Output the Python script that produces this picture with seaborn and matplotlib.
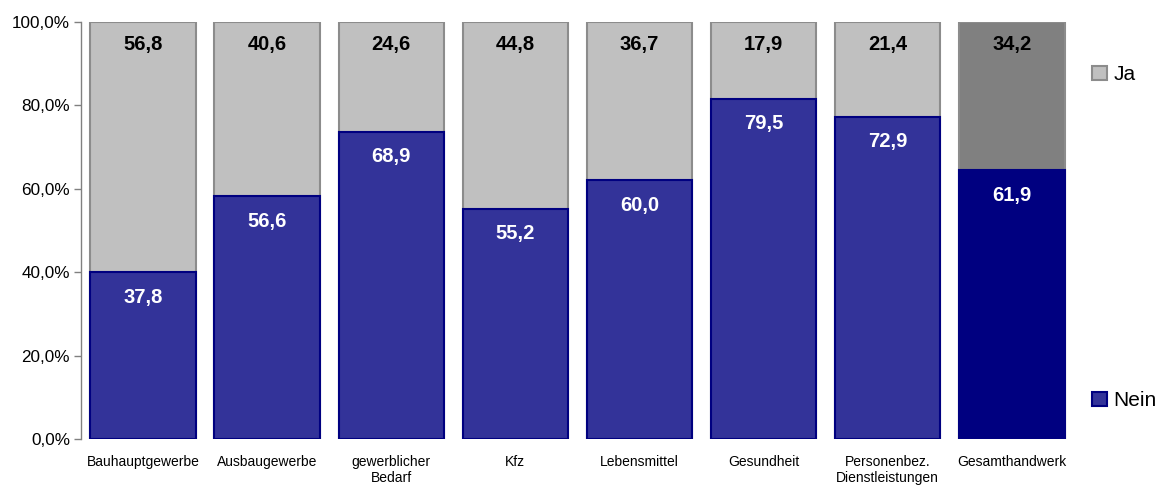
import matplotlib
matplotlib.use("Agg")
import matplotlib.pyplot as plt
from matplotlib.patches import Patch
from matplotlib.ticker import FuncFormatter
import seaborn as sns
import numpy as np
import pandas as pd

categories = ["Bauhauptgewerbe", "Ausbaugewerbe", "gewerblicher\nBedarf", "Kfz",
              "Lebensmittel", "Gesundheit", "Personenbez.\nDienstleistungen", "Gesamthandwerk"]
nein = [37.8, 56.6, 68.9, 55.2, 60.0, 79.5, 72.9, 61.9]
ja = [56.8, 40.6, 24.6, 44.8, 36.7, 17.9, 21.4, 34.2]

nein_arr = np.array(nein)
ja_arr = np.array(ja)
nein_share = nein_arr / (nein_arr + ja_arr) * 100
total_share = np.full(len(categories), 100.0)

df = pd.DataFrame({"cat": categories, "nein": nein_share, "total": total_share})

sns.set_style("white")
plt.rcParams["font.family"] = ["Liberation Sans", "DejaVu Sans"]
plt.rcParams["text.color"] = "black"

fig = plt.figure(figsize=(11.64, 4.86), dpi=100)
ax = fig.add_axes([0.0696, 0.0967, 0.853, 0.858])

ja_colors = ["#C0C0C0"] * 7 + ["#808080"]
nein_colors = ["#333399"] * 7 + ["#000080"]

sns.barplot(data=df, x="cat", y="total", hue="cat", palette=ja_colors,
            legend=False, width=0.85, ax=ax, saturation=1)
n = len(categories)
for p in ax.patches[:n]:
    p.set_edgecolor("#8C8C8C")
    p.set_linewidth(1.5)

sns.barplot(data=df, x="cat", y="nein", hue="cat", palette=nein_colors,
            legend=False, width=0.85, ax=ax, saturation=1)
for p in ax.patches[n:]:
    p.set_edgecolor("#000080")
    p.set_linewidth(1.5)

for i in range(n):
    ax.annotate(f"{ja[i]:.1f}".replace(".", ","), (i, 100), xytext=(0, -16.5),
                textcoords="offset points", ha="center", va="center",
                fontsize=14.5, fontweight="bold", color="black")
    ax.annotate(f"{nein[i]:.1f}".replace(".", ","), (i, nein_share[i]), xytext=(0, -18),
                textcoords="offset points", ha="center", va="center",
                fontsize=14.5, fontweight="bold", color="white")

ax.set_xlim(-0.5, n - 0.5)
ax.set_ylim(0, 100)
ax.set_yticks(np.arange(0, 101, 20))
ax.yaxis.set_major_formatter(FuncFormatter(lambda v, _: f"{v:.1f}%".replace(".", ",")))
ax.set_xlabel("")
ax.set_ylabel("")
ax.tick_params(axis="y", which="major", left=True, length=5, width=1, color="#808080",
               labelsize=12.3, labelcolor="black", pad=3)
ax.tick_params(axis="x", bottom=False, labelsize=10, labelcolor="black", pad=8)
for s in ["top", "right", "bottom"]:
    ax.spines[s].set_visible(False)
ax.spines["left"].set_color("#808080")
ax.spines["left"].set_linewidth(1)

handles = [Patch(facecolor="#C0C0C0", edgecolor="#8C8C8C", linewidth=1.5, label="Ja"),
           Patch(facecolor="#333399", edgecolor="#000080", linewidth=1.5, label="Nein")]
fig.legend(handles=handles, loc="upper left", bbox_to_anchor=(0.9385, 0.866),
           frameon=False, fontsize=15, labelspacing=14.75, handlelength=0.7,
           handleheight=0.7, handletextpad=0.3, borderaxespad=0, borderpad=0,
           labelcolor="black")

fig.savefig("out.png", dpi=100)
